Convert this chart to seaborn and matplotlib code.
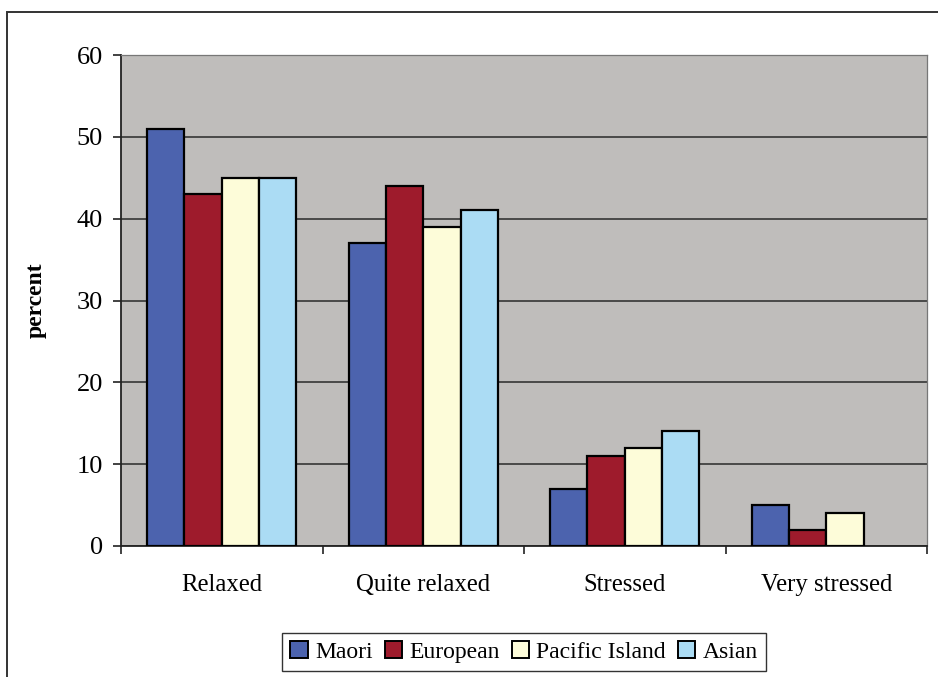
import matplotlib
matplotlib.use("Agg")
import matplotlib.pyplot as plt
from matplotlib.patches import Rectangle, Patch
from matplotlib.ticker import FixedLocator, NullFormatter
import numpy as np
import pandas as pd
import seaborn as sns

# Stress levels reported by ethnic group (percent)
categories = ["Relaxed", "Quite relaxed", "Stressed", "Very stressed"]
groups = ["Maori", "European", "Pacific Island", "Asian"]
maori = [51, 37, 7, 5]
european = [43, 44, 11, 2]
pacific_island = [45, 39, 12, 4]
asian = [45, 41, 14, np.nan]
y_ticks = [0, 10, 20, 30, 40, 50, 60]

colors = ["#4c63ae", "#9e1b2c", "#fdfcd9", "#abdcf4"]

rows = []
for g, vals in zip(groups, [maori, european, pacific_island, asian]):
    for c, v in zip(categories, vals):
        rows.append({"category": c, "group": g, "percent": v})
df = pd.DataFrame(rows)

sns.set_theme(style="white")
plt.rcParams["font.family"] = ["Liberation Serif", "DejaVu Serif"]
plt.rcParams["text.color"] = "black"
plt.rcParams["axes.labelcolor"] = "black"
plt.rcParams["xtick.color"] = "black"
plt.rcParams["ytick.color"] = "black"

fig = plt.figure(figsize=(9.38, 6.77), dpi=100)
ax = fig.add_axes([121 / 938, 1 - 546 / 677, 806 / 938, 491 / 677])
ax.set_facecolor("#bfbdbb")

sns.barplot(data=df, x="category", y="percent", hue="group",
            order=categories, hue_order=groups, palette=colors,
            width=0.74, gap=0, edgecolor="black", linewidth=1.6,
            saturation=1, errorbar=None, legend=False, ax=ax, zorder=3)

ax.set_xlim(-0.5, 3.5)
ax.set_ylim(0, 60)
ax.set_yticks(y_ticks)
ax.yaxis.grid(True, color="#2a2a2a", linewidth=1.1, zorder=1)
ax.set_axisbelow(True)

for side in ["top", "right"]:
    ax.spines[side].set_color("#777777")
    ax.spines[side].set_linewidth(0.9)
for side in ["left", "bottom"]:
    ax.spines[side].set_color("#222222")
    ax.spines[side].set_linewidth(1.3)

ax.tick_params(axis="y", which="major", direction="out", length=6,
               width=1.2, color="#222222", labelsize=19, pad=7, left=True,
               labelcolor="black")
ax.tick_params(axis="x", which="major", length=0, labelsize=17.8, pad=20,
               labelcolor="black")
ax.xaxis.set_minor_locator(FixedLocator([-0.5, 0.5, 1.5, 2.5, 3.5]))
ax.xaxis.set_minor_formatter(NullFormatter())
ax.tick_params(axis="x", which="minor", direction="out", length=6,
               width=1.2, color="#222222", bottom=True)

ax.set_xlabel("")
ax.set_ylabel("percent", fontsize=17, fontweight="bold", color="black")
ax.yaxis.set_label_coords(-0.092, 0.5)

handles = [Patch(facecolor=c, edgecolor="black", linewidth=1.4, label=g)
           for c, g in zip(colors, groups)]
leg = fig.legend(handles=handles, loc="center", ncol=4,
                 bbox_to_anchor=(524 / 938, 1 - 652 / 677),
                 fontsize=17, frameon=True, fancybox=False,
                 handlelength=0.75, handleheight=0.75, handletextpad=0.3,
                 columnspacing=0.5, borderpad=0.35, borderaxespad=0)
leg.get_frame().set_edgecolor("black")
leg.get_frame().set_linewidth(1.0)
for t in leg.get_texts():
    t.set_color("black")

# outer frame of the chart
fig.patches.append(Rectangle((7 / 938, -0.05), 1.0, 1 - 12 / 677 + 0.05,
                             transform=fig.transFigure, fill=False,
                             edgecolor="#333333", linewidth=1.4))

fig.savefig("out.png", dpi=100)
